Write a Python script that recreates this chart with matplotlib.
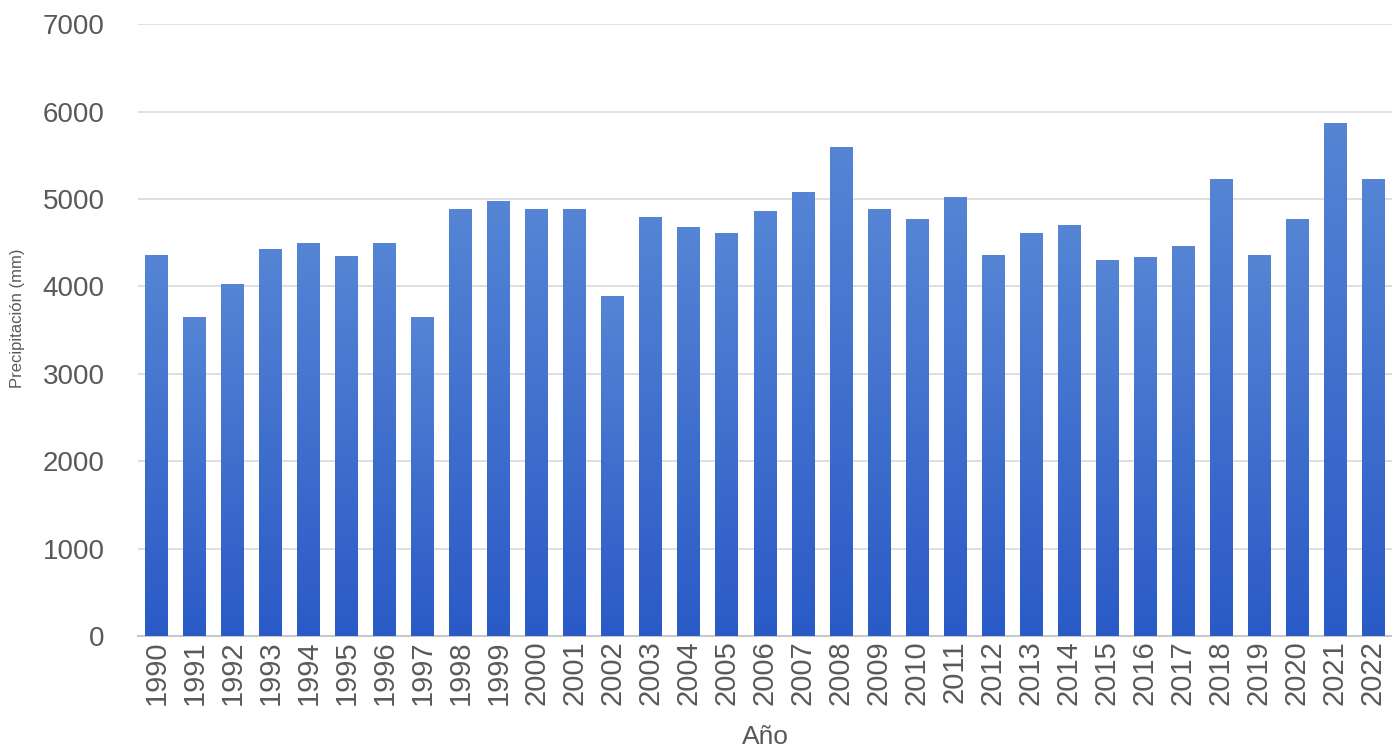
import numpy as np
import matplotlib.pyplot as plt
from matplotlib.colors import LinearSegmentedColormap

plt.rcParams['font.family'] = ['Liberation Sans', 'DejaVu Sans']

# ── data ──────────────────────────────────────────────────────────────
years = [str(y) for y in range(1990, 2023)]
precip = [4360, 3650, 4030, 4430, 4500, 4350, 4500, 3650, 4885, 4975,
          4885, 4885, 3890, 4795, 4680, 4610, 4860, 5080, 5595, 4885,
          4770, 5020, 4360, 4610, 4700, 4300, 4335, 4460, 5230, 4360,
          4770, 5870, 5230]
y_ticks = [0, 1000, 2000, 3000, 4000, 5000, 6000, 7000]

# ── plot ──────────────────────────────────────────────────────────────
fig = plt.figure(figsize=(13.92, 7.54), dpi=100)
ax = fig.add_axes([0.099, 0.1565, 0.901, 0.8115])

x = np.arange(len(years))
bars = ax.bar(x, precip, width=0.6, color='#3f6fcf', zorder=2)

# vertical gradient inside every bar (lighter at top, darker at bottom)
cmap = LinearSegmentedColormap.from_list('bluegrad', ['#2a5ac6', '#5585d4'])
grad = np.linspace(0, 1, 256).reshape(-1, 1)
for b in bars:
    x0, w, h = b.get_x(), b.get_width(), b.get_height()
    im = ax.imshow(grad, cmap=cmap, origin='lower', aspect='auto',
                   extent=[x0, x0 + w, 0, h], zorder=3)
    im.set_clip_path(b)

ax.set_xlim(-0.5, len(years) - 0.5)
ax.set_ylim(0, 7000)
ax.set_yticks(y_ticks)
ax.set_yticklabels([str(t) for t in y_ticks])
ax.set_xticks(x)
ax.set_xticklabels(years, rotation=90)

ax.yaxis.grid(True, color='#d9d9d9', lw=1.2, zorder=0)
ax.set_axisbelow(True)
for s in ['top', 'right', 'left']:
    ax.spines[s].set_visible(False)
ax.spines['bottom'].set_color('#c8c8c8')
ax.spines['bottom'].set_linewidth(1.5)

ax.tick_params(axis='both', length=0, colors='#595959')
ax.tick_params(axis='y', pad=24, labelsize=20)
ax.tick_params(axis='x', pad=3, labelsize=21)

ax.set_xlabel('Año', fontsize=19, color='#595959', labelpad=0)
ax.xaxis.set_label_coords(0.50, -0.146)
ax.set_ylabel('Precipitación (mm)', fontsize=12, color='#595959')
ax.yaxis.set_label_coords(-0.090, 0.52)

plt.savefig('out.png', dpi=100)
